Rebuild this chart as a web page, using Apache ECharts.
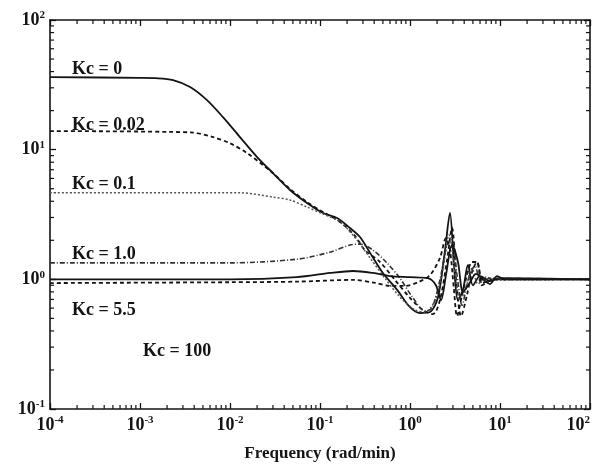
<!DOCTYPE html>
<html>
<head>
<meta charset="utf-8">
<script src="https://cdn.jsdelivr.net/npm/echarts@6/dist/echarts.min.js"></script>
<style>
  html, body { margin: 0; padding: 0; background: #fff; }
  #chart { width: 597px; height: 464px; }
</style>
</head>
<body>
<div id="chart"></div>
<script>
// [frequency (rad/min), magnitude]
const kc0 = [[1e-4, 36.3], [1e-3, 35.8], [0.0015, 35.6], [0.00233, 34.4], [0.0036, 30.4], [0.00555, 24.1],
  [0.00836, 17.8], [0.0129, 12.5], [0.02, 8.77], [0.030, 6.6], [0.0464, 4.89], [0.0717, 3.88], [0.108, 3.25],
  [0.155, 2.97], [0.215, 2.49], [0.278, 2.12], [0.36, 1.60], [0.50, 1.12], [0.72, 0.83], [1.0, 0.61],
  [1.29, 0.55], [1.67, 0.56], [2.05, 0.73], [2.45, 1.68], [2.78, 3.25], [3.08, 1.29], [3.41, 0.69],
  [3.88, 0.83], [4.41, 1.29], [5.0, 0.90], [6.0, 1.06], [7.74, 0.97], [10, 1.02], [100, 1.0]];
const kc002 = [[1e-4, 13.9], [0.0036, 13.6], [0.00647, 12.5], [0.01, 11.2], [0.0155, 9.4], [0.0233, 7.6],
  [0.030, 6.6], [0.0464, 4.98], [0.0717, 3.95], [0.108, 3.30], [0.167, 2.77], [0.245, 2.16], [0.316, 1.68],
  [0.464, 1.36], [0.68, 0.99], [1.0, 0.72], [1.39, 0.58], [1.80, 0.54], [2.15, 0.69], [2.58, 1.41],
  [2.93, 2.49], [3.33, 0.83], [3.69, 0.52], [4.3, 0.76], [4.89, 1.14], [5.55, 1.36], [6.47, 0.94],
  [7.74, 0.99], [10, 1.0], [100, 1.0]];
const kc01 = [[1e-4, 4.65], [0.0129, 4.65], [0.030, 4.31], [0.0464, 4.09], [0.0717, 3.61], [0.108, 3.19],
  [0.167, 2.77], [0.258, 2.01], [0.36, 1.46], [0.527, 1.02], [0.774, 0.73], [1.14, 0.58], [1.47, 0.56],
  [1.90, 0.69], [2.33, 1.22], [2.71, 2.20], [3.16, 1.14], [3.59, 0.69], [4.19, 0.86], [4.89, 1.22],
  [5.7, 0.92], [6.99, 1.04], [8.8, 0.99], [100, 1.0]];
const kc1 = [[1e-4, 1.34], [0.01, 1.34], [0.0555, 1.43], [0.129, 1.62], [0.215, 1.84], [0.278, 1.87],
  [0.388, 1.68], [0.555, 1.34], [0.774, 1.02], [1.05, 0.74], [1.47, 0.57], [1.75, 0.60], [2.15, 0.99],
  [2.58, 1.84], [2.93, 2.01], [3.33, 1.08], [3.79, 0.63], [4.41, 0.99], [5.27, 1.27], [6.15, 0.95],
  [7.74, 1.02], [100, 1.0]];
const kc55 = [[1e-4, 1.0], [0.01, 1.0], [0.0555, 1.04], [0.129, 1.12], [0.233, 1.16], [0.388, 1.12],
  [0.6, 1.06], [1.0, 1.04], [1.58, 1.02], [1.94, 0.90], [2.21, 0.69], [2.51, 1.08], [2.93, 1.84],
  [3.41, 1.36], [3.88, 0.80], [4.53, 0.92], [5.41, 1.10], [6.47, 1.0], [7.74, 0.92], [9.27, 1.06],
  [11.2, 1.0], [100, 1.0]];
const kc100 = [[1e-4, 0.936], [0.01, 0.95], [0.0555, 0.96], [0.233, 0.99], [0.41, 0.94], [0.6, 0.89],
  [0.88, 0.89], [1.23, 0.95], [1.67, 1.08], [2.15, 1.46], [2.51, 2.08], [2.78, 1.68], [3.08, 0.83],
  [3.33, 0.52], [3.79, 0.76], [4.3, 1.08], [4.89, 1.36], [5.55, 1.36], [6.31, 0.90], [7.2, 0.95],
  [8.8, 1.0], [100, 1.0]];

const curveLabels = ['Kc = 0', 'Kc = 0.02', 'Kc = 0.1', 'Kc = 1.0', 'Kc = 5.5', 'Kc = 100'];
const xDecades = [1e-4, 1e-3, 1e-2, 1e-1, 1, 10, 100];
const yDecades = [0.1, 1, 10, 100];

// minor tick positions (2..9 of each decade)
const tickData = [];
xDecades.slice(0, -1).forEach(d => { for (let k = 2; k <= 9; k++) tickData.push([d * k, 1, 0]); });
yDecades.slice(0, -1).forEach(d => { for (let k = 2; k <= 9; k++) tickData.push([1e-3, d * k, 1]); });

const serif = '"Liberation Serif", "DejaVu Serif", serif';
const ink = '#141414';

function powLabel(v) {
  const e = Math.round(Math.log10(v));
  return '{b|10}{s|' + e + '}';
}
const powRich = {
  b: { fontFamily: serif, fontWeight: 'bold', fontSize: 18, color: ink, lineHeight: 20 },
  s: { fontFamily: serif, fontWeight: 'bold', fontSize: 11, color: ink, lineHeight: 11, verticalAlign: 'top' }
};

const chart = echarts.init(document.getElementById('chart'));

function line(name, data, type, width, color) {
  return {
    name: name, type: 'line', data: data, smooth: 0.3, symbol: 'none',
    lineStyle: { color: color || ink, width: width, type: type },
    silent: true, z: 3
  };
}

const option = {
  animation: false,
  backgroundColor: '#fff',
  grid: { left: 50, right: 7, top: 20, bottom: 55, outerBoundsMode: 'none' },
  xAxis: [{
    type: 'log', logBase: 10, min: 1e-4, max: 100,
    name: 'Frequency (rad/min)', nameLocation: 'middle', nameGap: 36,
    nameTextStyle: { fontFamily: serif, fontWeight: 'bold', fontSize: 17, color: ink },
    axisLine: { lineStyle: { color: ink, width: 1.6 } },
    axisTick: { inside: true, length: 6, lineStyle: { color: ink, width: 1.3 } },
    axisLabel: { formatter: powLabel, rich: powRich, margin: 6, alignMaxLabel: 'right' },
    splitLine: { show: false }
  }, {
    type: 'log', logBase: 10, min: 1e-4, max: 100, position: 'top',
    axisLine: { show: true, lineStyle: { color: ink, width: 1.6 } },
    axisTick: { inside: true, length: 6, lineStyle: { color: ink, width: 1.3 } },
    axisLabel: { show: false }, splitLine: { show: false }
  }],
  yAxis: [{
    type: 'log', logBase: 10, min: 0.1, max: 100,
    axisLine: { show: true, lineStyle: { color: ink, width: 1.6 } },
    axisTick: { inside: true, length: 6, lineStyle: { color: ink, width: 1.3 } },
    axisLabel: { formatter: powLabel, rich: powRich, margin: 5 },
    splitLine: { show: false }
  }, {
    type: 'log', logBase: 10, min: 0.1, max: 100, position: 'right',
    axisLine: { show: true, lineStyle: { color: ink, width: 1.6 } },
    axisTick: { inside: true, length: 6, lineStyle: { color: ink, width: 1.3 } },
    axisLabel: { show: false }, splitLine: { show: false }
  }],
  series: [
    line(curveLabels[0], kc0, 'solid', 1.8),
    line(curveLabels[1], kc002, [4, 3], 1.8),
    line(curveLabels[2], kc01, [2, 2], 1.5, '#555'),
    line(curveLabels[3], kc1, [5, 2, 1, 2], 1.6, '#333'),
    line(curveLabels[4], kc55, 'solid', 1.8),
    line(curveLabels[5], kc100, [4, 3], 1.8),
    {
      type: 'custom', data: tickData, silent: true, clip: false, z: 4,
      encode: { x: 0, y: 1 },
      renderItem: function (params, api) {
        const cs = params.coordSys;
        const st = { stroke: ink, lineWidth: 1.2 };
        const len = 4;
        if (api.value(2) === 0) {
          const px = api.coord([api.value(0), 1])[0];
          return { type: 'group', children: [
            { type: 'line', shape: { x1: px, y1: cs.y + cs.height, x2: px, y2: cs.y + cs.height - len }, style: st },
            { type: 'line', shape: { x1: px, y1: cs.y, x2: px, y2: cs.y + len }, style: st }
          ] };
        }
        const py = api.coord([1, api.value(1)])[1];
        return { type: 'group', children: [
          { type: 'line', shape: { x1: cs.x, y1: py, x2: cs.x + len, y2: py }, style: st },
          { type: 'line', shape: { x1: cs.x + cs.width, y1: py, x2: cs.x + cs.width - len, y2: py }, style: st }
        ] };
      }
    }
  ],
  graphic: [
    { type: 'text', left: 72, top: 60, style: { text: curveLabels[0], font: 'bold 18px ' + serif, fill: ink } },
    { type: 'text', left: 72, top: 116, style: { text: curveLabels[1], font: 'bold 18px ' + serif, fill: ink } },
    { type: 'text', left: 72, top: 175, style: { text: curveLabels[2], font: 'bold 18px ' + serif, fill: ink } },
    { type: 'text', left: 72, top: 245, style: { text: curveLabels[3], font: 'bold 18px ' + serif, fill: ink } },
    { type: 'text', left: 72, top: 301, style: { text: curveLabels[4], font: 'bold 18px ' + serif, fill: ink } },
    { type: 'text', left: 143, top: 342, style: { text: curveLabels[5], font: 'bold 18px ' + serif, fill: ink } }
  ]
};

chart.setOption(option);
</script>
</body>
</html>
